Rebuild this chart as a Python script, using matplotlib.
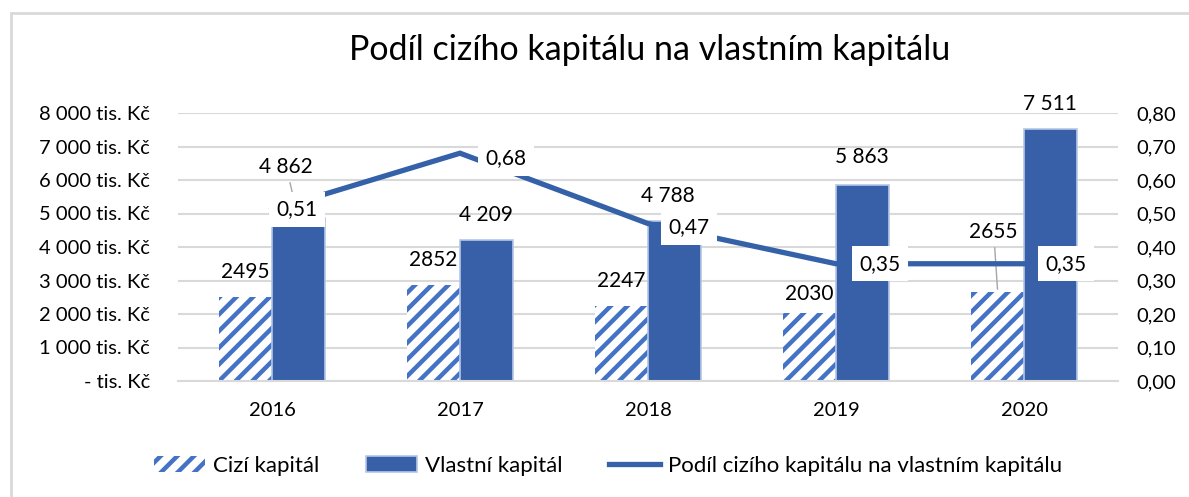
import matplotlib
matplotlib.use('Agg')
import matplotlib.pyplot as plt
import matplotlib.patches as mpatches
from matplotlib.lines import Line2D
from matplotlib.ticker import FuncFormatter, MultipleLocator

plt.rcParams['font.family'] = ['Lato', 'DejaVu Sans']
plt.rcParams['hatch.linewidth'] = 3.2

years = ['2016', '2017', '2018', '2019', '2020']
cizi = [2495, 2852, 2247, 2030, 2655]
vlastni = [4862, 4209, 4788, 5863, 7511]
podil = [0.51, 0.68, 0.47, 0.35, 0.35]

hatch_col = '#4472C4'
bar_col = '#3760A8'
line_col = '#3561A9'
grid_col = '#D9D9D9'

fig = plt.figure(figsize=(11.89, 4.97), dpi=100)
ax = fig.add_axes([178 / 1189, 1 - 381 / 497, 940 / 1189, 268 / 497])
ax2 = ax.twinx()

x = list(range(len(years)))
w = 0.28
xc = [i - 0.14 for i in x]
xv = [i + 0.14 for i in x]
ax.bar(xc, cizi, w, color='white', edgecolor=hatch_col, hatch='//', linewidth=0, zorder=2)
ax.bar(xv, vlastni, w, color=bar_col, edgecolor='#B4C7E7', linewidth=1.2, zorder=2)

ax.set_xlim(-0.5, 4.5)
ax.set_ylim(0, 8000)
ax.yaxis.set_major_locator(MultipleLocator(1000))
ax.yaxis.set_major_formatter(FuncFormatter(
    lambda v, p: '- tis. Kč' if v == 0 else f'{int(v):,} tis. Kč'.replace(',', ' ')))
ax.set_xticks(x)
ax.set_xticklabels(years)
ax.grid(axis='y', color=grid_col, linewidth=1.5, zorder=0)
ax.set_axisbelow(True)
for s in ['top', 'right', 'left']:
    ax.spines[s].set_visible(False)
ax.spines['bottom'].set_color(grid_col)
ax.spines['bottom'].set_linewidth(1.5)
ax.tick_params(axis='both', length=0, labelsize=14.5)
ax.tick_params(axis='y', pad=20)
ax.tick_params(axis='x', pad=15)

# bar labels
cizi_off = [(0, 25), (0, 25), (0, 25), (0, 19), (-4, 60)]
vl_off = [(-12, 51), (0, 25), (-7, 25), (0, 28), (0, 25)]
for i in x:
    lead = dict(arrowstyle='-', color='#A6A6A6', lw=1) if cizi_off[i][1] > 40 else None
    ax.annotate(str(cizi[i]), (xc[i], cizi[i]), xytext=cizi_off[i], textcoords='offset pixels',
                ha='center', va='center', fontsize=15, arrowprops=lead, zorder=5)
    lead = dict(arrowstyle='-', color='#A6A6A6', lw=1) if vl_off[i][1] > 40 else None
    ax.annotate(f'{vlastni[i]:,}'.replace(',', ' '), (xv[i], vlastni[i]), xytext=vl_off[i],
                textcoords='offset pixels', ha='center', va='center', fontsize=15,
                arrowprops=lead, zorder=5)

ax2.plot(x, podil, color=line_col, linewidth=3.8, solid_joinstyle='miter', zorder=3)
ax2.set_ylim(0, 0.8)
ax2.yaxis.set_major_locator(MultipleLocator(0.1))
ax2.yaxis.set_major_formatter(FuncFormatter(lambda v, p: f'{v:.2f}'.replace('.', ',')))
for s in ['top', 'right', 'left', 'bottom']:
    ax2.spines[s].set_visible(False)
ax2.tick_params(axis='y', length=0, labelsize=14.5, pad=13.5)

line_off = [(25, 1), (46, -5), (41, -4), (44, 0), (42, 0)]
for i in x:
    ax2.annotate(f'{podil[i]:.2f}'.replace('.', ','), (x[i], podil[i]), xytext=line_off[i],
                 textcoords='offset pixels', ha='center', va='center', fontsize=15, zorder=6,
                 bbox=dict(boxstyle='square,pad=0.36', fc='white', ec='none'))

fig.text(650 / 1189, 1 - 50 / 497, 'Podíl cizího kapitálu na vlastním kapitálu',
         ha='center', va='center', fontsize=24.5)

handles = [
    mpatches.Patch(facecolor='white', edgecolor=hatch_col, hatch='//', linewidth=0),
    mpatches.Patch(facecolor=bar_col, edgecolor='#B4C7E7', linewidth=1.2),
    Line2D([0], [0], color=line_col, linewidth=3.8),
]
fig.legend(handles, ['Cizí kapitál', 'Vlastní kapitál', 'Podíl cizího kapitálu na vlastním kapitálu'],
           loc='center', bbox_to_anchor=(608 / 1189, 1 - 466 / 497), ncol=3, frameon=False,
           fontsize=16, handlelength=2.3, handleheight=0.75, handletextpad=0.35, columnspacing=2.1)

fig.patches.append(mpatches.Rectangle((11 / 1189, -0.1), 2, 1 - 13 / 497 + 0.1,
                                      transform=fig.transFigure, fill=False,
                                      edgecolor=grid_col, linewidth=2))

fig.savefig('out.png', dpi=100)
